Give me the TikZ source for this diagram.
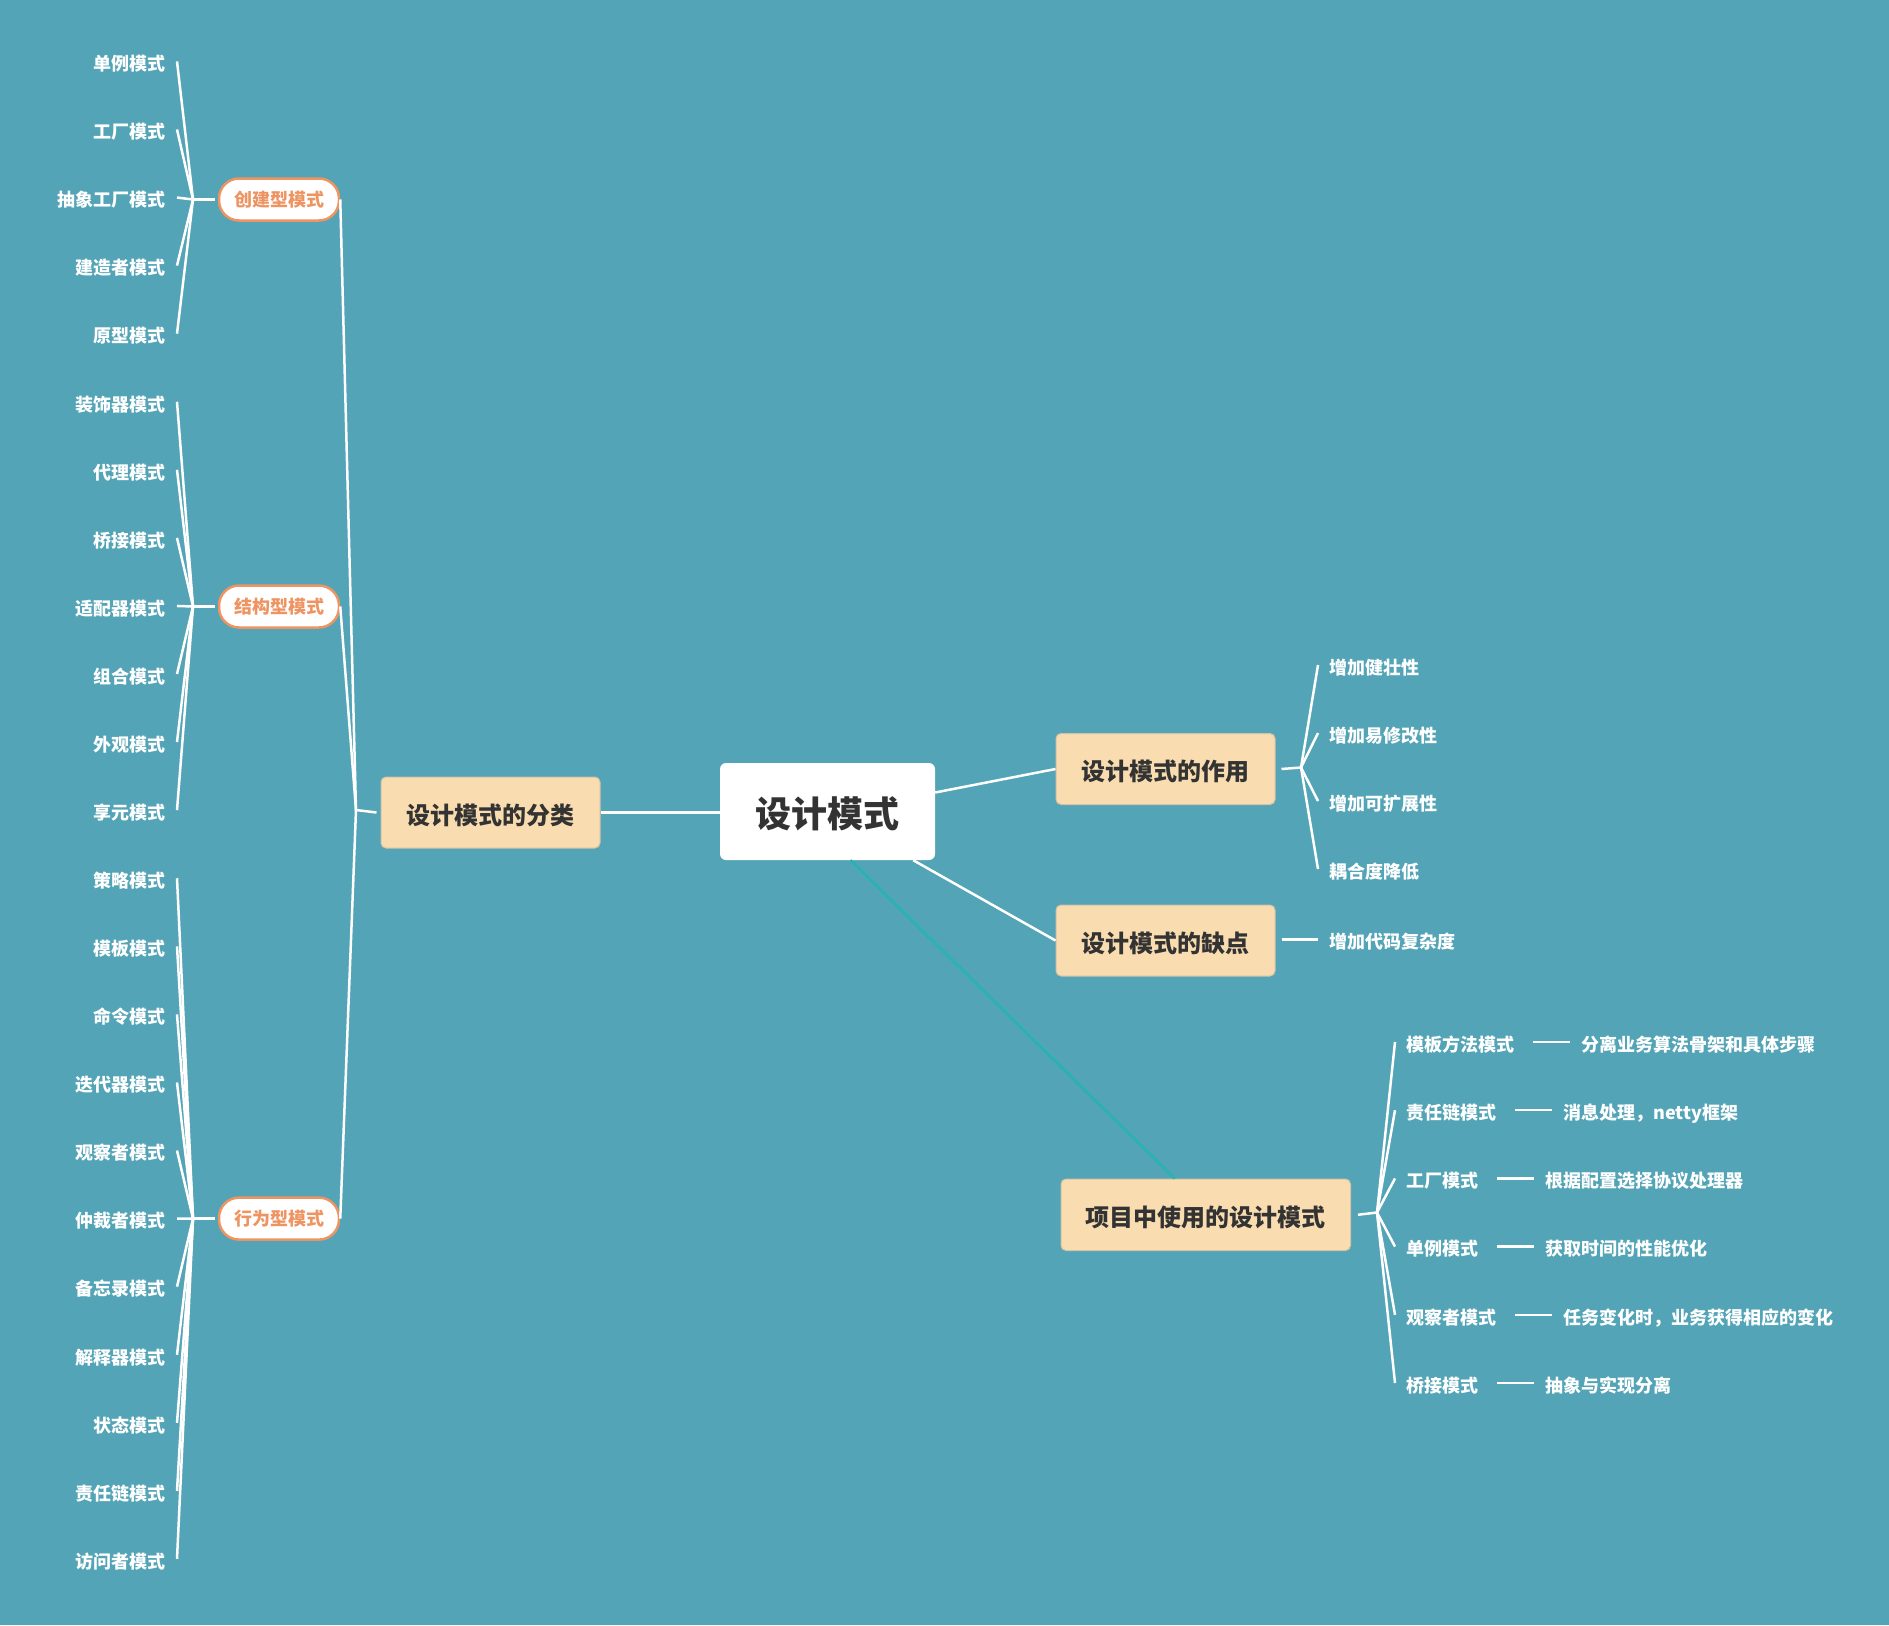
\documentclass[tikz,border=0pt]{standalone}
\usepackage{fontspec}
\setmainfont{Noto Sans CJK SC}
\definecolor{bgc}{HTML}{52A4B6}
\definecolor{peach}{HTML}{F9DCAF}
\definecolor{peachline}{HTML}{D6C2A6}
\definecolor{orng}{HTML}{EE9462}
\definecolor{tealline}{HTML}{25B4AF}
\definecolor{darktext}{HTML}{333333}
\tikzset{
  leaf/.style={text=white, font=\fontsize{18}{20}\selectfont\bfseries, inner xsep=11pt, inner ysep=0pt, text height=18.5pt, text depth=0pt},
  catnode/.style={draw=orng, line width=2.5pt, fill=white, rounded corners=20pt, minimum width=120pt, minimum height=42pt, text=orng, font=\fontsize{18}{20}\selectfont\bfseries, inner sep=0pt},
  topic/.style={fill=peach, draw=peachline, line width=1pt, rounded corners=5pt, minimum width=219pt, minimum height=71pt, text=darktext, font=\fontsize{24}{28}\selectfont\bfseries, inner sep=0pt, text height=23pt, text depth=0pt},
  rootnode/.style={fill=white, rounded corners=6pt, minimum width=215pt, minimum height=97pt, text=darktext, font=\fontsize{36}{40}\selectfont\bfseries, inner sep=0pt, text height=32pt, text depth=0pt},
  link/.style={draw=white, line width=2.5pt},
}
\begin{document}
\begin{tikzpicture}[x=1pt, y=-1pt]
\useasboundingbox[fill=bgc] (0,0) rectangle (1889,1625);

% main nodes
\node[rootnode] (root) at (827.5,811.5) {设计模式};
\node[topic] (fl) at (490.5,812.5) {设计模式的分类};
\node[topic] (zy) at (1165.5,769) {设计模式的作用};
\node[topic] (qd) at (1165.5,940.5) {设计模式的缺点};
\node[topic, minimum width=289.5pt, minimum height=71.5pt] (xm) at (1205.75,1214.75) {项目中使用的设计模式};

% categories
\node[catnode] (cj) at (279,199.5) {创建型模式};
\node[catnode] (jg) at (279,606.5) {结构型模式};
\node[catnode] (xw) at (279,1218.6) {行为型模式};

% left leaves
\foreach \t [count=\i from 0] in {单例模式,工厂模式,抽象工厂模式,建造者模式,原型模式,装饰器模式,代理模式,桥接模式,适配器模式,组合模式,外观模式,享元模式,策略模式,模板模式,命令模式,迭代器模式,观察者模式,仲裁者模式,备忘录模式,解释器模式,状态模式,责任链模式,访问者模式}
  \node[leaf, anchor=east] (L\i) at (177,{61.4+68.07*\i}) {\t};

\coordinate (jc) at (193,199.5);
\coordinate (js) at (193,606.5);
\coordinate (jb) at (193,1218.6);
\coordinate (J) at (356,810);

\foreach \i in {0,...,4} \draw[link] (jc) -- (L\i.east);
\foreach \i in {5,...,11} \draw[link] (js) -- (L\i.east);
\foreach \i in {12,...,22} \draw[link] (jb) -- (L\i.east);
\draw[link] (jc) -- ([xshift=-3pt]cj.west);
\draw[link] (js) -- ([xshift=-3pt]jg.west);
\draw[link] (jb) -- ([xshift=-3pt]xw.west);

\draw[link] (cj.east) -- (J);
\draw[link] (jg.east) -- (J);
\draw[link] (xw.east) -- (J);
\draw[link] (J) -- ([xshift=-4pt]fl.west);

% root connections
\draw[link] (fl.east) -- (root.west |- fl.east);
\draw[link] ([yshift=19pt]root.east) -- (zy.west);
\draw[link] ([xshift=-22pt]root.south east) -- (qd.west);
\draw[draw=tealline, line width=2.5pt] ([xshift=23pt]root.south) -- ([xshift=-31pt]xm.north);

% effects
\coordinate (jz) at (1301,767.5);
\foreach \t [count=\i from 0] in {增加健壮性,增加易修改性,增加可扩展性,耦合度降低}
  \node[leaf, anchor=west] (R\i) at (1318,{665+68*\i}) {\t};
\draw[link] ([xshift=6pt]zy.east) -- (jz);
\foreach \i in {0,...,3} \draw[link] (jz) -- (R\i.west);

% drawbacks
\node[leaf, anchor=west] (Q0) at (1318,939.5) {增加代码复杂度};
\draw[link] ([xshift=6pt]qd.east |- Q0.west) -- (Q0.west);

% project usage
\coordinate (jx) at (1377,1212.5);
\draw[link] ([xshift=7pt]xm.east) -- (jx);
\foreach \a/\b [count=\i from 0] in {模板方法模式/分离业务算法骨架和具体步骤,责任链模式/消息处理，netty框架,工厂模式/根据配置选择协议处理器,单例模式/获取时间的性能优化,观察者模式/任务变化时，业务获得相应的变化,桥接模式/抽象与实现分离}
{
  \node[leaf, anchor=west] (P\i) at (1395,{1042+68.2*\i}) {\a};
  \node[leaf, anchor=west] (D\i) at ([xshift=45pt]P\i.east) {\b};
  \draw[link] (jx) -- (P\i.west);
  \draw[link, shorten <=8pt] (P\i.east) -- (D\i.west);
}
\end{tikzpicture}
\end{document}
